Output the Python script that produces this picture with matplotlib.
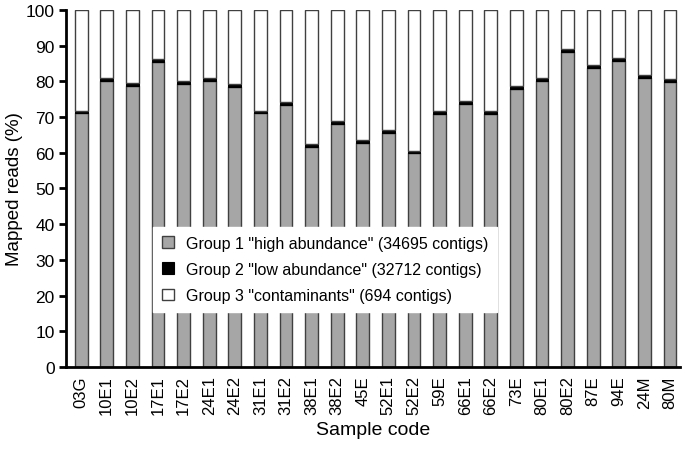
import matplotlib
matplotlib.use("Agg")
import matplotlib.pyplot as plt
import numpy as np

plt.rcParams['font.family'] = ['Liberation Sans', 'DejaVu Sans']

samples = ["03G", "10E1", "10E2", "17E1", "17E2", "24E1", "24E2", "31E1", "31E2",
           "38E1", "38E2", "45E", "52E1", "52E2", "59E", "66E1", "66E2", "73E",
           "80E1", "80E2", "87E", "94E", "24M", "80M"]
group1 = [71.0, 80.1, 78.6, 85.5, 79.3, 80.1, 78.3, 71.0, 73.3, 61.7, 68.0, 62.7,
          65.5, 59.8, 70.9, 73.7, 70.9, 77.9, 80.0, 88.3, 83.8, 85.8, 81.0, 79.9]
group2 = [0.8] * 24
group3 = [100 - a - b for a, b in zip(group1, group2)]

labels = ['Group 1 "high abundance" (34695 contigs)',
          'Group 2 "low abundance" (32712 contigs)',
          'Group 3 "contaminants" (694 contigs)']

fig = plt.figure(figsize=(6.85, 4.52), dpi=100)
ax = fig.add_axes([0.096, 0.186, 0.897, 0.79])

x = np.arange(len(samples))
w = 0.5
ax.bar(x, group1, w, color='#a6a6a6', edgecolor='#404040', linewidth=1, label=labels[0])
ax.bar(x, group2, w, bottom=group1, color='black', edgecolor='black', linewidth=0.8, label=labels[1])
bot3 = [a + b for a, b in zip(group1, group2)]
ax.bar(x, group3, w, bottom=bot3, color='white', edgecolor='#404040', linewidth=1, label=labels[2])

ax.set_xlim(-0.6, 23.4)
ax.set_ylim(0, 100)
ax.set_yticks(np.arange(0, 101, 10))
ax.set_xticks(x)
ax.set_xticklabels(samples, rotation=90, fontsize=12)
ax.tick_params(axis='y', labelsize=12.5, width=2, length=5, direction='out', pad=3)
ax.tick_params(axis='x', length=0, pad=6)
for s in ['top', 'right']:
    ax.spines[s].set_visible(False)
for s in ['left', 'bottom']:
    ax.spines[s].set_linewidth(2)
ax.set_ylabel('Mapped reads (%)', fontsize=13.5, labelpad=2)
ax.set_xlabel('Sample code', fontsize=14, labelpad=5)

leg = ax.legend(loc='upper left', bbox_to_anchor=(0.142, 0.392), fontsize=11.5,
                frameon=True, fancybox=False, framealpha=1, edgecolor='white',
                handlelength=0.75, handleheight=0.75, handletextpad=0.75,
                labelspacing=0.7, borderpad=0.55, borderaxespad=0)

fig.savefig('out.png', dpi=100)
